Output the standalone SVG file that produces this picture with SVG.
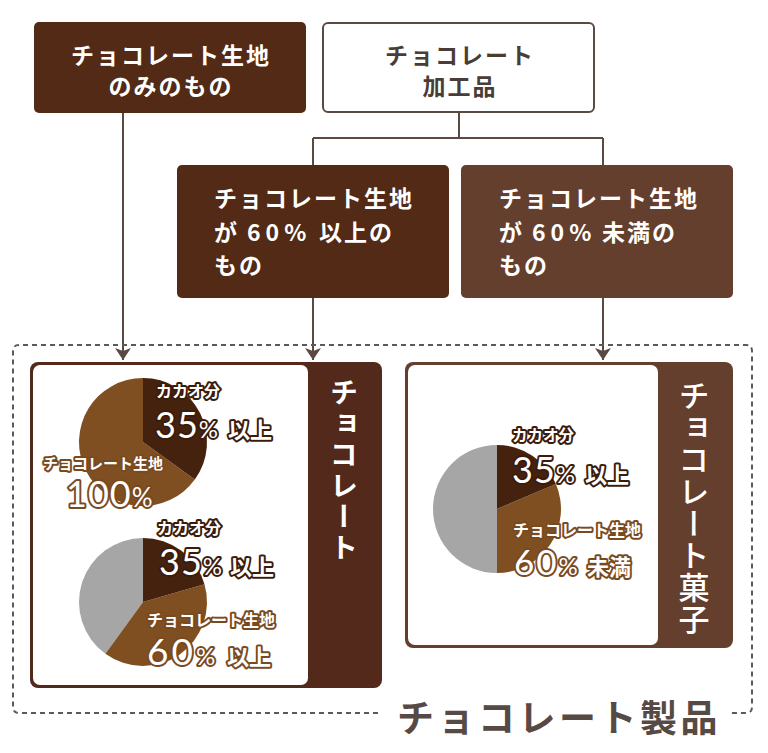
<svg xmlns="http://www.w3.org/2000/svg" width="768" height="753" viewBox="0 0 768 753">
<defs>
<style>
.jp{font-family:"Noto Sans CJK JP","Noto Sans CJK SC",sans-serif;}
.num{font-family:Lato,"Open Sans","Liberation Sans",sans-serif;}
.boxt{font-size:23px;font-weight:700;letter-spacing:2px;}
.wt{fill:#ffffff;}
.c{fill:#ffffff;stroke:#3b1c0b;stroke-width:4;paint-order:stroke;stroke-linejoin:round;}
.d{fill:#ffffff;stroke:#7a4a1f;stroke-width:4;paint-order:stroke;stroke-linejoin:round;}
.conn{fill:none;stroke:#5b4a42;stroke-width:2;}
.dark{fill:#45220e;}
.brown{fill:#7f4f21;}
.gray{fill:#a6a6a6;}
</style>
<marker id="arr" markerUnits="userSpaceOnUse" markerWidth="20" markerHeight="20" viewBox="-14 -10 16 20" refX="0" refY="0" orient="auto">
<path d="M-12,-8 L0,0 L-12,8 L-9,0 Z" fill="#5b4a42"/>
</marker>
</defs>
<rect width="768" height="753" fill="#ffffff"/>

<g id="connectors">
<path class="conn" d="M123,113 V360" marker-end="url(#arr)"/>
<path class="conn" d="M459,112 V138 M313,138 H603 M313,138 V165 M603,138 V165"/>
<path class="conn" d="M313,298 V360" marker-end="url(#arr)"/>
<path class="conn" d="M603,298 V360" marker-end="url(#arr)"/>
</g>

<g id="products-border">
<path d="M378,713 H19 Q13,713 13,707 V351 Q13,345 19,345 H746 Q752,345 752,351 V707 Q752,713 746,713 H728" fill="none" stroke="#5a5a5a" stroke-width="2" stroke-dasharray="5 4"/>
<text class="jp" x="397" y="732" font-size="37" font-weight="700" letter-spacing="3.5" fill="#574a44">チョコレート製品</text>
</g>

<g id="node-pure">
<rect x="34" y="22" width="272" height="91" rx="5" fill="#522a15"/>
<text class="jp boxt wt" text-anchor="middle"><tspan x="171" y="64">チョコレート生地</tspan><tspan x="171" y="95">のみのもの</tspan></text>
</g>

<g id="node-processed">
<rect x="323" y="23" width="271" height="89" rx="5" fill="#ffffff" stroke="#5b4a42" stroke-width="2"/>
<text class="jp boxt" fill="#4a3d36" text-anchor="middle"><tspan x="460" y="64">チョコレート</tspan><tspan x="460" y="95">加工品</tspan></text>
</g>

<g id="node-over60">
<rect x="177" y="165" width="272" height="133" rx="5" fill="#522a15"/>
<text class="jp boxt wt"><tspan x="214" y="207">チョコレート生地</tspan><tspan x="214" y="241">が</tspan><tspan x="247" y="241" letter-spacing="5">60%</tspan><tspan x="319" y="241">以上の</tspan><tspan x="214" y="274">もの</tspan></text>
</g>

<g id="node-under60">
<rect x="461" y="165" width="272" height="133" rx="5" fill="#653f2e"/>
<text class="jp boxt wt"><tspan x="499" y="207">チョコレート生地</tspan><tspan x="499" y="241">が</tspan><tspan x="532" y="241" letter-spacing="5">60%</tspan><tspan x="602" y="241">未満の</tspan><tspan x="499" y="274">もの</tspan></text>
</g>

<g id="panel-chocolate">
<rect x="30" y="362" width="352" height="326" rx="8" fill="#52291a"/>
<rect x="33" y="365" width="275" height="320" rx="7" fill="#ffffff"/>
<text class="jp wt" x="344" y="378" font-size="28" font-weight="700" letter-spacing="3" style="writing-mode:vertical-rl">チョコレート</text>

<g id="pie-100">
<path class="brown" d="M143,442 L194.8,479.6 A64,64 0 1 1 143,378 Z"/>
<path class="dark" d="M143,442 L143,378 A64,64 0 0 1 194.8,479.6 Z"/>
<text class="jp c" x="156" y="397" font-size="16" font-weight="700">カカオ分</text>
<text class="c" y="438"><tspan class="num" x="155" font-size="36" letter-spacing="1">35</tspan><tspan class="num" font-size="24">%</tspan><tspan class="jp" x="228" font-size="22" font-weight="700">以上</tspan></text>
<text class="jp d" x="43" y="469" font-size="15" font-weight="700">チョコレート生地</text>
<text class="d" y="507"><tspan class="num" x="66" font-size="36" letter-spacing="1">100</tspan><tspan class="num" font-size="26">%</tspan></text>
</g>

<g id="pie-60up">
<path class="gray" d="M143,602 L105.4,653.8 A64,64 0 0 1 143,538 Z"/>
<path class="brown" d="M143,602 L204.5,584.3 A64,64 0 0 1 105.4,653.8 Z"/>
<path class="dark" d="M143,602 L143,538 A64,64 0 0 1 204.5,584.3 Z"/>
<text class="jp c" x="157" y="534" font-size="16" font-weight="700">カカオ分</text>
<text class="c" y="575"><tspan class="num" x="159" font-size="36" letter-spacing="1">35</tspan><tspan class="num" font-size="24">%</tspan><tspan class="jp" x="230" font-size="22" font-weight="700">以上</tspan></text>
<text class="jp d" x="147" y="626" font-size="16" font-weight="700">チョコレート生地</text>
<text class="d" y="665"><tspan class="num" x="147" font-size="37" letter-spacing="3">60</tspan><tspan class="num" font-size="24">%</tspan><tspan class="jp" x="227" font-size="22" font-weight="700">以上</tspan></text>
</g>
</g>

<g id="panel-confectionery">
<rect x="405" y="362" width="328" height="286" rx="8" fill="#643f2d"/>
<rect x="408" y="365" width="250" height="280" rx="7" fill="#ffffff"/>
<text class="jp wt" x="694" y="380" font-size="31" font-weight="500" letter-spacing="1" style="writing-mode:vertical-rl">チョコレート菓子</text>

<g id="pie-60down">
<path class="gray" d="M497,509 L497,573 A64,64 0 0 1 497,445 Z"/>
<path class="brown" d="M497,509 L555.9,484 A64,64 0 0 1 497,573 Z"/>
<path class="dark" d="M497,509 L497,445 A64,64 0 0 1 555.9,484 Z"/>
<text class="jp c" x="512" y="441" font-size="15.5" font-weight="700">カカオ分</text>
<text class="c" y="483"><tspan class="num" x="512" font-size="36" letter-spacing="1">35</tspan><tspan class="num" font-size="24">%</tspan><tspan class="jp" x="585" font-size="22" font-weight="700">以上</tspan></text>
<text class="jp d" x="513" y="536" font-size="16" font-weight="700">チョコレート生地</text>
<text class="d" y="575"><tspan class="num" x="514" font-size="35" letter-spacing="2">60</tspan><tspan class="num" font-size="24">%</tspan><tspan class="jp" x="587" font-size="22" font-weight="700">未満</tspan></text>
</g>
</g>
</svg>
